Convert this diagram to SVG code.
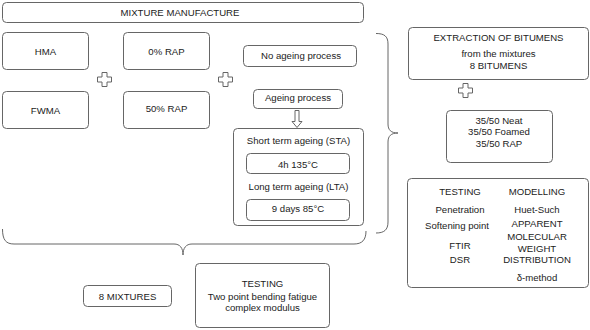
<svg xmlns="http://www.w3.org/2000/svg" width="590" height="330" viewBox="0 0 590 330">
<style>
.box{fill:#fff;stroke:#666;stroke-width:1}
.t{font-family:"Liberation Sans",Arial,sans-serif;font-size:9.6px;fill:#222;text-anchor:middle}
.ln{fill:none;stroke:#666;stroke-width:1}
</style>
<defs>
<path id="plus" d="M-2.5,-7 h5 v4.5 h4.5 v5 h-4.5 v4.5 h-5 v-4.5 h-4.5 v-5 h4.5 z" fill="#fff" stroke="#666" stroke-width="1"/>
</defs>
<rect width="590" height="330" fill="#fff"/>
<g id="mixture-manufacture"><rect class="box" x="2.5" y="2.5" width="361" height="20" rx="4"/><text class="t" x="180" y="16">MIXTURE MANUFACTURE</text></g>
<g id="hma"><rect class="box" x="2.5" y="32.5" width="86" height="37" rx="4"/><text class="t" x="45.5" y="55">HMA</text></g>
<g id="fwma"><rect class="box" x="2.5" y="91.5" width="86" height="37" rx="4"/><text class="t" x="45.5" y="113.5">FWMA</text></g>
<g id="rap0"><rect class="box" x="123.5" y="32.5" width="86" height="37" rx="4"/><text class="t" x="166.5" y="55">0% RAP</text></g>
<g id="rap50"><rect class="box" x="123.5" y="91.5" width="86" height="37" rx="4"/><text class="t" x="166.5" y="112">50% RAP</text></g>
<g id="no-ageing"><rect class="box" x="243.5" y="45.5" width="113" height="21" rx="4"/><text class="t" x="301" y="59">No ageing process</text></g>
<g id="ageing"><rect class="box" x="253.5" y="89.5" width="89" height="19" rx="4"/><text class="t" x="298" y="100.5">Ageing process</text></g>
<g id="ageing-types"><rect class="box" x="233.5" y="128.5" width="130" height="97" rx="4"/>
<text class="t" x="298.5" y="144">Short term ageing (STA)</text>
<rect class="box" x="246.5" y="153.5" width="103" height="20" rx="4"/><text class="t" x="298" y="167.5">4h 135°C</text>
<text class="t" x="298.5" y="190">Long term ageing (LTA)</text>
<rect class="box" x="246.5" y="199.5" width="103" height="21" rx="4"/><text class="t" x="298" y="211.5">9 days 85°C</text></g>
<g id="extraction"><rect class="box" x="408.5" y="27.5" width="180" height="52" rx="4"/>
<text class="t" x="498.5" y="40.5">EXTRACTION OF BITUMENS</text><text class="t" x="498.5" y="56.5">from the mixtures</text><text class="t" x="498.5" y="68.5">8 BITUMENS</text></g>
<g id="bitumens"><rect class="box" x="446.5" y="110.5" width="106" height="52" rx="4"/>
<text class="t" x="499" y="123.5">35/50 Neat</text><text class="t" x="499" y="135">35/50 Foamed</text><text class="t" x="499" y="146.5">35/50 RAP</text></g>
<g id="testing-modelling"><rect class="box" x="407.5" y="178.5" width="181" height="109" rx="4"/>
<text class="t" x="460" y="194.5">TESTING</text><text class="t" x="460" y="212.5">Penetration</text><text class="t" x="457" y="228.5">Softening point</text><text class="t" x="460" y="248.5">FTIR</text><text class="t" x="460" y="262.5">DSR</text>
<text class="t" x="537" y="194.5">MODELLING</text><text class="t" x="537" y="212.5">Huet-Such</text><text class="t" x="537" y="226.5">APPARENT</text><text class="t" x="537" y="240">MOLECULAR</text><text class="t" x="537" y="251.5">WEIGHT</text><text class="t" x="537" y="262.5">DISTRIBUTION</text><text class="t" x="537" y="280.5">δ-method</text></g>
<g id="mixtures8"><rect class="box" x="83.5" y="285.5" width="88" height="21" rx="4"/><text class="t" x="127.5" y="299.5">8 MIXTURES</text></g>
<g id="testing-mix"><rect class="box" x="195.5" y="263.5" width="134" height="64" rx="4"/>
<text class="t" x="262.5" y="286.5">TESTING</text><text class="t" x="262.5" y="299.5">Two point bending fatigue</text><text class="t" x="262.5" y="310.5">complex modulus</text></g>
<g id="connectors">
<use href="#plus" x="104.5" y="79.5"/>
<use href="#plus" x="225.5" y="79.5"/>
<use href="#plus" x="465.5" y="90.5"/>
<path class="ln" d="M295,110.5 h4 v11 h3 l-5,6 l-5,-6 h3 z"/>
<path class="ln" d="M376,33.5 C384,33.5 388,36 388,44 L388,124 C388,130 391,133 398,133 C391,133 388,136 388,142 L388,222 C388,230 384,233 376,233"/>
<path class="ln" d="M2.5,229 C2.5,240 6,244 14,244 L174,244 C180,244 183,248 183,255 C183,248 186,244 192,244 L354,244 C362,244 366,240 366,231"/>
</g>
</svg>
